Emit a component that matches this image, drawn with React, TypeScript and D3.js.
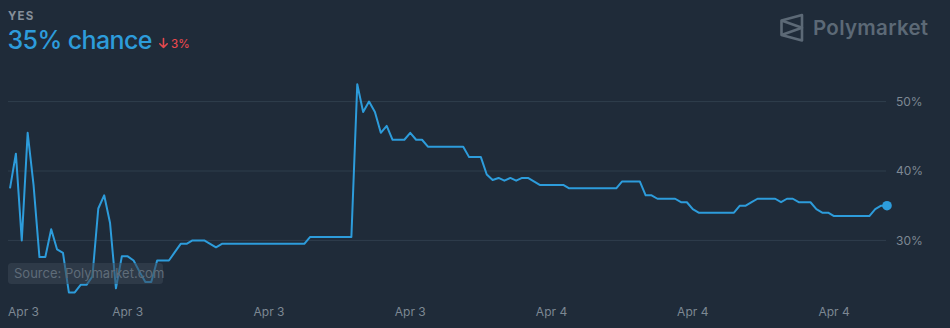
import React from "react";
import * as d3 from "d3";

// ---- data ----
const startTime = "2024-04-03T08:40:00Z";
const stepMinutes = 10;
const yesValues: number[] = [
  37.5, 42.5, 30.0, 45.5, 38.0, 27.6, 27.6, 31.6, 28.7, 28.2,
  22.5, 22.5, 23.6, 23.6, 24.8, 34.6, 36.5, 32.5, 23.1, 27.7,
  27.7, 27.1, 25.5, 24.0, 24.0, 27.1, 27.1, 27.1, 28.3, 29.5,
  29.5, 30.0, 30.0, 30.0, 29.5, 29.0, 29.5, 29.5, 29.5, 29.5,
  29.5, 29.5, 29.5, 29.5, 29.5, 29.5, 29.5, 29.5, 29.5, 29.5,
  29.5, 30.5, 30.5, 30.5, 30.5, 30.5, 30.5, 30.5, 30.5, 52.5,
  48.5, 50.0, 48.5, 45.5, 46.5, 44.5, 44.5, 44.5, 45.5, 44.5,
  44.5, 43.5, 43.5, 43.5, 43.5, 43.5, 43.5, 43.5, 42.0, 42.0,
  42.0, 39.5, 38.7, 39.0, 38.6, 39.0, 38.6, 39.0, 39.0, 38.5,
  38.0, 38.0, 38.0, 38.0, 38.0, 37.5, 37.5, 37.5, 37.5, 37.5,
  37.5, 37.5, 37.5, 37.5, 38.5, 38.5, 38.5, 38.5, 36.5, 36.5,
  36.0, 36.0, 36.0, 36.0, 35.5, 35.5, 34.5, 34.0, 34.0, 34.0,
  34.0, 34.0, 34.0, 34.0, 35.0, 35.0, 35.5, 36.0, 36.0, 36.0,
  36.0, 35.5, 36.0, 36.0, 35.5, 35.5, 35.5, 34.5, 34.0, 34.0,
  33.5, 33.5, 33.5, 33.5, 33.5, 33.5, 33.5, 34.5, 35.0, 35.0,
];
const tickDates = [
  "2024-04-03T12:00:00Z",
  "2024-04-03T16:00:00Z",
  "2024-04-03T20:00:00Z",
  "2024-04-04T00:00:00Z",
  "2024-04-04T04:00:00Z",
  "2024-04-04T08:00:00Z",
];
const yTicks = [30, 40, 50];
const outcomeLabel = "YES";
const headline = "35% chance";
const changeLabel = "3%";

// ---- styles ----
const W = 950;
const H = 328;
const BG = "#1f2b39";
const BLUE = "#2d9cdb";
const GRID = "#2f3e4d";
const AXIS_TEXT = "#7d8893";
const FONT = "Inter, 'Open Sans', 'Noto Sans', sans-serif";

export default function App() {
  const t0 = new Date(startTime).getTime();
  const points = yesValues.map((v, i) => ({
    t: new Date(t0 + i * stepMinutes * 60000),
    v,
  }));
  const x = d3
    .scaleUtc()
    .domain([points[0].t, points[points.length - 1].t])
    .range([10, 887]);
  const y = d3.scaleLinear().domain([30, 50]).range([240.4, 101.6]);
  const line = d3
    .line<{ t: Date; v: number }>()
    .x((d) => x(d.t))
    .y((d) => y(d.v))
    .curve(d3.curveLinear);
  const fmt = d3.utcFormat("%b %-d");
  const last = points[points.length - 1];

  return (
    <svg
      width={W}
      height={H}
      style={{ position: "fixed", left: 0, top: 0, display: "block" }}
      fontFamily={FONT}
    >
      <rect x={0} y={0} width={W} height={H} fill={BG} />

      {/* header */}
      <text x={8} y={19.5} fontSize={11.5} fontWeight={700} fill="#858f9a" letterSpacing={1.2}>
        {outcomeLabel}
      </text>
      <text x={7.5} y={48.5} fontSize={25} fontWeight={500} fill={BLUE} letterSpacing={-0.6}>
        {headline}
      </text>
      <g stroke="#e5484d" strokeWidth={1.6} fill="none" strokeLinecap="round" strokeLinejoin="round">
        <path d="M163.5,38.5 L163.5,47.5 M159.8,43.8 L163.5,47.5 L167.2,43.8" />
      </g>
      <text x={171} y={47.5} fontSize={11.5} fontWeight={500} fill="#e5484d">
        {changeLabel}
      </text>

      {/* logo */}
      <g stroke="#5c6976" strokeWidth={2.6} fill="none" strokeLinejoin="round">
        <path d="M802,15 L781.5,20.5 L781.5,35 L802,40.5 Z" />
        <path d="M781.5,20.5 L802,27.8 L781.5,35" />
      </g>
      <text x={813} y={34.5} fontSize={20.5} fontWeight={600} fill="#5c6976" letterSpacing={0.3}>
        Polymarket
      </text>

      {/* grid */}
      {yTicks.map((tv) => (
        <g key={tv}>
          <line x1={8} x2={886} y1={y(tv)} y2={y(tv)} stroke={GRID} strokeWidth={1} />
          <text x={896} y={y(tv)} dy="0.35em" fontSize={12} fill={AXIS_TEXT}>
            {`${tv}%`}
          </text>
        </g>
      ))}

      {/* x axis labels */}
      <text x={8} y={316} fontSize={12} fill={AXIS_TEXT}>
        {fmt(points[0].t)}
      </text>
      {tickDates.map((d) => {
        const dt = new Date(d);
        return (
          <text key={d} x={x(dt)} y={316} fontSize={12} fill={AXIS_TEXT} textAnchor="middle">
            {fmt(dt)}
          </text>
        );
      })}

      {/* line */}
      <path d={line(points) || ""} fill="none" stroke={BLUE} strokeWidth={2} strokeLinejoin="round" />
      <circle cx={x(last.t)} cy={y(last.v)} r={4.8} fill={BLUE} />

      {/* source badge */}
      <rect x={8} y={263} width={155} height={21} rx={3.5} fill="#3a4756" fillOpacity={0.55} />
      <text x={14} y={278} fontSize={13} fill="#5f6c79">
        Source: Polymarket.com
      </text>
    </svg>
  );
}
